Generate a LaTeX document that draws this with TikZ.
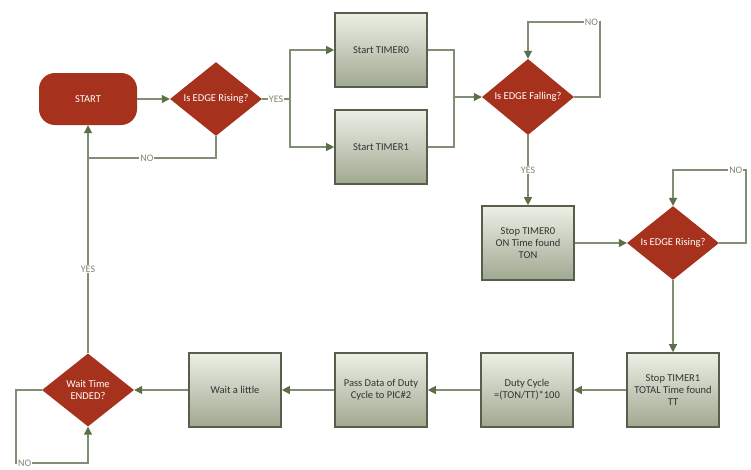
\documentclass[tikz,border=0pt]{standalone}
\usepackage{fontspec}
\setmainfont{Carlito}
\usepackage{tikz}
\usetikzlibrary{positioning, shapes.geometric, arrows.meta}
\definecolor{decred}{RGB}{166,49,28}
\definecolor{boxedge}{RGB}{85,95,75}
\definecolor{boxtop}{RGB}{236,239,229}
\definecolor{boxbottom}{RGB}{160,168,145}
\definecolor{wire}{RGB}{128,142,118}
\definecolor{tipgreen}{RGB}{92,112,72}
\definecolor{labelgray}{RGB}{125,135,115}
\tikzset{
	x=1pt, y=-1pt,
	every text node part/.style= {
		align=center
	},
	font=\fontsize{10.5}{12}\selectfont,
	flowbox/.style= {
		rectangle,
		draw=boxedge,
		line width=1.6pt,
		top color=boxtop,
		bottom color=boxbottom,
		text=black!80,
		minimum width=92pt,
		minimum height=74pt,
		inner sep=2pt
	},
	decision/.style= {
		diamond,
		fill=decred,
		text=white,
		minimum width=92pt,
		minimum height=73pt,
		inner sep=0pt
	},
	terminal/.style= {
		rectangle,
		rounded corners=16pt,
		fill=decred,
		text=white,
		minimum width=98pt,
		minimum height=52pt
	},
	flowline/.style= {
		draw=wire,
		line width=1.2pt
	},
	flowarrow/.style= {
		flowline,
		-{Triangle[length=8pt, width=8pt, fill=tipgreen, color=tipgreen]}
	},
	linelabel/.style= {
		fill=white,
		text=labelgray,
		inner sep=1pt,
		font=\fontsize{10}{11}\selectfont
	},
}

\begin{document}
\begin{tikzpicture}
		\useasboundingbox[fill=white] (0,0) rectangle (751,469);
		
		\node (start) [terminal] at (88,99) {START};
		\node (rise1) [decision] at (216,99) {Is EDGE Rising?};
		\node (timer0) [flowbox] at (381,50) {Start TIMER0};
		\node (timer1) [flowbox] at (381,147) {Start TIMER1};
		\node (fall) [decision] at (528,97) {Is EDGE Falling?};
		\node (stop0) [flowbox] at (528,243) {Stop TIMER0\\ON Time found\\TON};
		\node (rise2) [decision] at (673,243) {Is EDGE Rising?};
		\node (stop1) [flowbox] at (673,390) {Stop TIMER1\\TOTAL Time found\\TT};
		\node (duty) [flowbox] at (527,390) {Duty Cycle\\=(TON/TT)*100};
		\node (pass) [flowbox] at (381,390) {Pass Data of Duty\\Cycle to PIC\#2};
		\node (waitbox) [flowbox] at (235,390) {Wait a little};
		\node (waitend) [decision] at (88,390) {Wait Time\\ENDED?};
		
		\coordinate (split) at (290,99);
		\coordinate (join) at (454,97);
		\coordinate (fallno) at (600,22);
		\coordinate (riseno) at (746,170);
		\coordinate (waitno) at (16,463);
		\coordinate (nojoin) at (88,158);
		
		\draw[flowarrow] (start) -- (rise1);
		\draw[flowline] (rise1.east) -- node[linelabel]{YES} (split);
		\draw[flowarrow] (split) |- (timer0.west);
		\draw[flowarrow] (split) |- (timer1.west);
		\draw[flowline] (timer0.east) -| (join);
		\draw[flowline] (timer1.east) -| (join);
		\draw[flowarrow] (join) -- (fall.west);
		\draw[flowarrow] (fall.east) -| (fallno) -| node[pos=0.06, linelabel]{NO} (fall.north);
		\draw[flowarrow] (fall.south) -- node[linelabel]{YES} (stop0.north);
		\draw[flowarrow] (stop0) -- (rise2.west);
		\draw[flowarrow] (rise2.east) -| (riseno) -| node[pos=0.07, linelabel]{NO} (rise2.north);
		\draw[flowarrow] (rise2.south) -- (stop1.north);
		\draw[flowarrow] (stop1) -- (duty);
		\draw[flowarrow] (duty) -- (pass);
		\draw[flowarrow] (pass) -- (waitbox);
		\draw[flowarrow] (waitbox) -- (waitend.east);
		\draw[flowarrow] (waitend.west) -| (waitno) -| node[pos=0.06, linelabel]{NO} (waitend.south);
		\draw[flowarrow] (waitend.north) -- node[pos=0.37, linelabel]{YES} (start.south);
		\draw[flowline] (rise1.south) |- node[pos=0.77, linelabel]{NO} (nojoin);
		\end{tikzpicture}
\end{document}
